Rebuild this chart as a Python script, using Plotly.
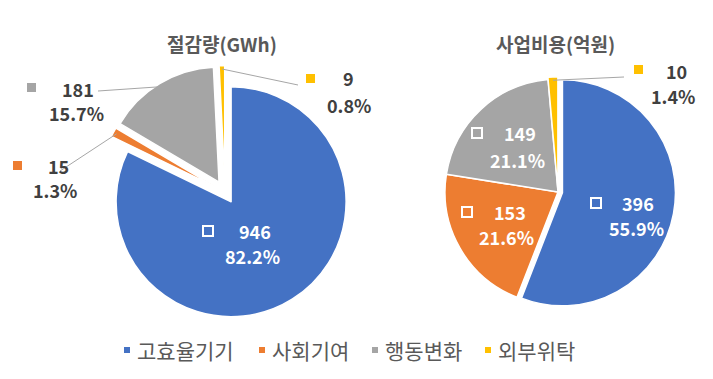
import math
import plotly.graph_objects as go

W, H = 713, 379

# ---------------- data ----------------
categories = ["고효율기기", "사회기여", "행동변화", "외부위탁"]
colors = ["#4472C4", "#ED7D31", "#A5A5A5", "#FFC000"]
savings_gwh = [946, 15, 181, 9]
cost_eok = [396, 153, 149.3, 10]
titles = ["절감량(GWh)", "사업비용(억원)"]

# ---------------- geometry (pixels) ----------------
L_CENTER, L_R, L_PULL = (225, 192), 115, [0.1, 0.1, 0.1, 0.1]
R_CENTER, R_R, R_PULL = (558, 192), 113, [0.04, 0.0, 0.0, 0.02]

FONT = "Noto Sans CJK KR"
DARK = "#404040"
GREY_TXT = "#595959"


def px(x):
    return x / W


def py(y):
    return 1 - y / H


def domain(center, r, pull):
    half = r * (1 + max(pull))
    return dict(x=[(center[0] - half) / W, (center[0] + half) / W],
                y=[(H - (center[1] + half)) / H, (H - (center[1] - half)) / H])


def slice_point(values, i, center, r, pull, frac=1.0):
    tot = sum(values)
    start = sum(values[:i]) / tot * 360
    mid = math.radians(start + values[i] / tot * 180)
    ux, uy = math.sin(mid), -math.cos(mid)
    cx = center[0] + pull[i] * r * ux
    cy = center[1] + pull[i] * r * uy
    return cx + frac * r * ux, cy + frac * r * uy


def text_ann(x, y, text, size, color, xanchor="center"):
    return dict(x=px(x), y=py(y), xref="paper", yref="paper", text=text,
                showarrow=False, xanchor=xanchor, yanchor="middle",
                font=dict(family=FONT, size=size, color=color))


def box_ann(x, y, size, fill=None, border=None, bw=0):
    return dict(x=px(x), y=py(y), xref="paper", yref="paper", text=" ",
                showarrow=False, xanchor="center", yanchor="middle",
                width=size, height=size, borderpad=0,
                bgcolor=fill if fill else "rgba(0,0,0,0)",
                bordercolor=border if border else "rgba(0,0,0,0)", borderwidth=bw,
                font=dict(size=1))


fig = go.Figure()

for vals, center, r, pull in [(savings_gwh, L_CENTER, L_R, L_PULL),
                              (cost_eok, R_CENTER, R_R, R_PULL)]:
    fig.add_trace(go.Pie(
        labels=categories, values=vals, sort=False, direction="clockwise",
        rotation=0, pull=pull, domain=domain(center, r, pull),
        marker=dict(colors=colors, line=dict(color="white", width=1.5)),
        textinfo="none", showlegend=False, hoverinfo="label+value+percent",
    ))

annotations = []
shapes = []

# titles
for t, (x, y) in zip(titles, [(222, 43), (555, 43)]):
    annotations.append(text_ann(x, y, f"<b>{t}</b>", 19, GREY_TXT))

# data labels: (series, index, key xy, number xy, percent xy, inside, leader start)
label_layout = [
    (0, 0, (208, 231), (255, 231), (252, 256), True, None),
    (0, 1, (17, 165), (58, 166), (55, 190), False, (60, 171)),
    (0, 2, (31, 87), (78, 89), (76, 113), False, (98, 91)),
    (0, 3, (310, 78), (348, 78), (349, 105), False, (298, 85)),
    (1, 0, (596, 203), (638, 203), (636, 228), True, None),
    (1, 1, (467, 212), (510, 212), (507, 237), True, None),
    (1, 2, (477, 133), (520, 133), (517, 160), True, None),
    (1, 3, (638, 70), (676, 71), (673, 96), False, (624, 77)),
]
series = [(savings_gwh, L_CENTER, L_R, L_PULL), (cost_eok, R_CENTER, R_R, R_PULL)]

for s, i, key, num, pct, inside, lstart in label_layout:
    vals, center, r, pull = series[s]
    tot = sum(vals)
    color = "white" if inside else DARK
    annotations.append(text_ann(num[0], num[1], f"<b>{vals[i]:.0f}</b>", 18, color))
    annotations.append(text_ann(pct[0], pct[1], f"<b>{vals[i] / tot * 100:.1f}%</b>", 18, color))
    if inside:
        annotations.append(box_ann(key[0], key[1], 8, border="white", bw=2))
    else:
        annotations.append(box_ann(key[0], key[1], 9, fill=colors[i]))
        ex, ey = slice_point(vals, i, center, r, pull, 0.97)
        shapes.append(dict(type="line", xref="paper", yref="paper",
                           x0=px(lstart[0]), y0=py(lstart[1]), x1=px(ex), y1=py(ey),
                           line=dict(color="#A6A6A6", width=1)))

# legend (Excel style: small square key + label)
legend_key_x = [127, 262, 375, 488]
legend_y = 350
for cat, col, kx in zip(categories, colors, legend_key_x):
    annotations.append(box_ann(kx, legend_y, 6, fill=col))
    annotations.append(text_ann(kx + 8, legend_y, cat, 21, GREY_TXT, xanchor="left"))

fig.update_layout(
    width=W, height=H,
    margin=dict(l=0, r=0, t=0, b=0),
    paper_bgcolor="white", plot_bgcolor="white",
    annotations=annotations, shapes=shapes,
    showlegend=False,
)

fig.write_html("out.html", config={"displayModeBar": False},
               post_script="document.body.style.margin='0';")
